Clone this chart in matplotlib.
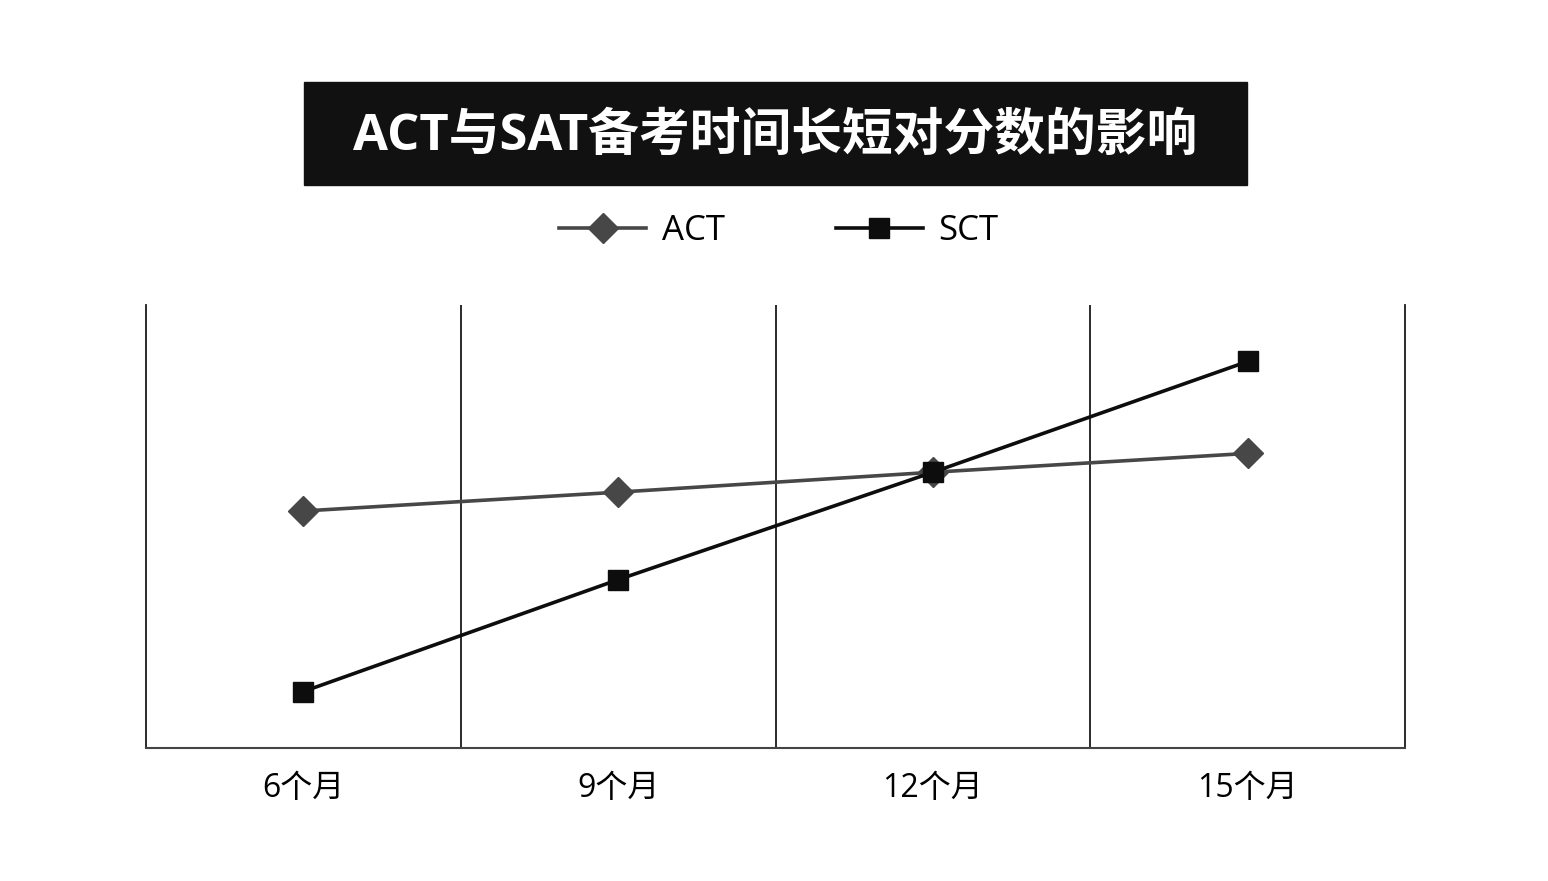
import numpy as np
import matplotlib
matplotlib.use("Agg")
from matplotlib import pyplot as plt
from matplotlib.patches import Rectangle

plt.rcParams['font.family'] = ['Open Sans', 'Noto Sans CJK SC', 'DejaVu Sans']

# data
months = ["6个月", "9个月", "12个月", "15个月"]
act = [21.4, 23.1, 24.9, 26.6]
sct = [5.1, 15.2, 24.9, 34.9]
title = "ACT与SAT备考时间长短对分数的影响"

fig = plt.figure(figsize=(15.48, 8.81), dpi=100)
ax = fig.add_axes([146 / 1548, 1 - 748 / 881, (1405 - 146) / 1548, (748 - 305) / 881])

x = np.arange(len(months))
ax.plot(x, act, color="#474747", lw=2.6, marker="D", ms=15, mec="#474747", label="ACT")
ax.plot(x, sct, color="#0d0d0d", lw=2.6, marker="s", ms=15, mec="#0d0d0d", label="SCT")

ax.set_xlim(-0.5, len(months) - 0.5)
ax.set_ylim(0, 40)
ax.set_xticks(x)
ax.set_xticklabels(months, fontsize=23)
ax.set_xticks(x[:-1] + 0.5, minor=True)
ax.tick_params(axis="x", which="both", length=0, pad=17)
ax.set_yticks([])
ax.grid(axis="x", which="minor", color="#1a1a1a", lw=1.3)
ax.spines["top"].set_visible(False)
for s in ["left", "right"]:
    ax.spines[s].set_color("#1a1a1a")
    ax.spines[s].set_linewidth(1.3)
ax.spines["bottom"].set_color("#444444")
ax.spines["bottom"].set_linewidth(1.5)

# title box
fig.patches.append(Rectangle((304 / 1548, 1 - 185 / 881), 943 / 1548, 103 / 881,
                             transform=fig.transFigure, color="#111111", zorder=0))
fig.text(775.5 / 1548, 1 - 137 / 881, title, color="white", fontsize=36.5,
         fontweight="bold", ha="center", va="center")

fig.legend(loc="center", bbox_to_anchor=(779 / 1548, 1 - 231 / 881), ncol=2,
           frameon=False, fontsize=25, handlelength=2.5, handletextpad=0.45,
           columnspacing=3.2)

fig.savefig("out.png", dpi=100)
